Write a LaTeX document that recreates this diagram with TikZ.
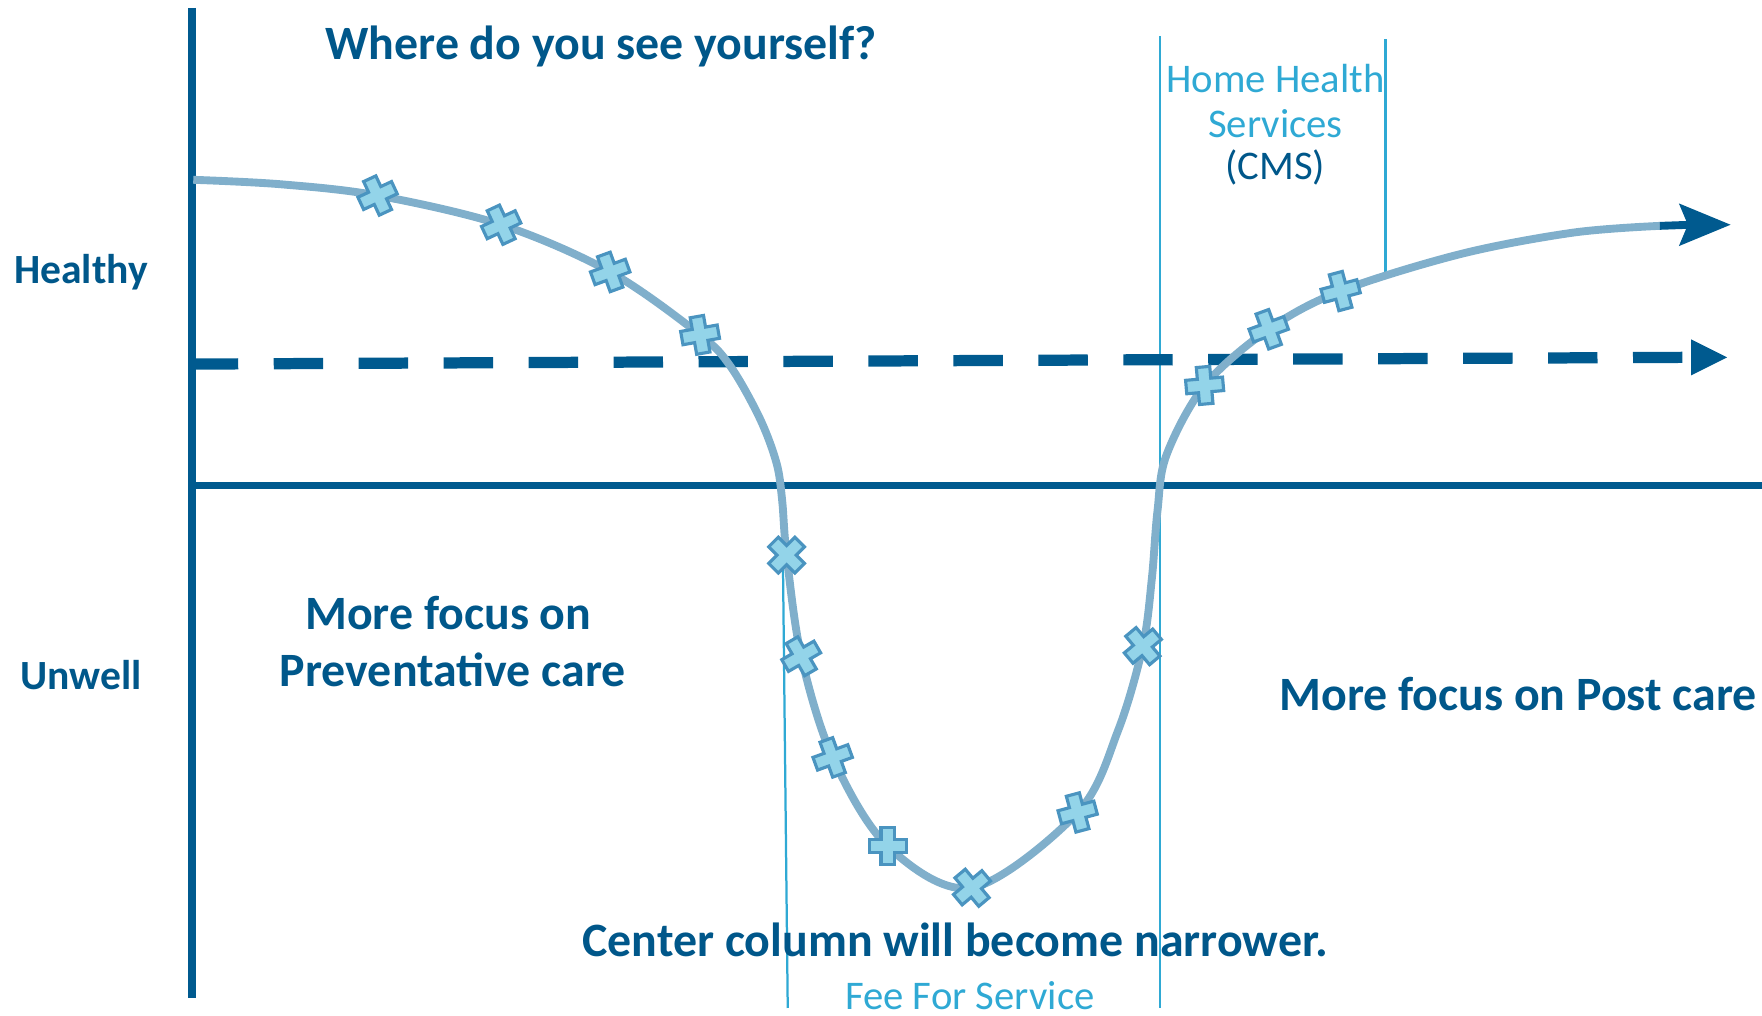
\documentclass[tikz,border=0pt]{standalone}
\usepackage{fontspec}
\setmainfont{Carlito}
\definecolor{dkblue}{HTML}{005A8F}
\definecolor{txtblue}{HTML}{00578A}
\definecolor{ltblue}{HTML}{2FA9D4}
\definecolor{curveblue}{HTML}{80AFCB}
\definecolor{crossfill}{HTML}{93D4E9}
\definecolor{crossline}{HTML}{4A94C0}
\tikzset{
  axisline/.style={draw=dkblue, line width=3.4pt},
  thinline/.style={draw=ltblue, line width=1pt},
  boldlbl/.style={inner sep=0pt, anchor=base, text=txtblue, font=\fontsize{21.3pt}{25pt}\selectfont\bfseries},
  sidelbl/.style={boldlbl, font=\fontsize{18.5pt}{22pt}\selectfont\bfseries},
  lightlbl/.style={inner sep=0pt, anchor=base, text=ltblue, font=\fontsize{18.1pt}{21pt}\selectfont},
  crs/.pic={\filldraw[fill=crossfill, draw=crossline, line width=1.4pt, line join=miter]
    (-16.5,-6)--(-6,-6)--(-6,-16.5)--(6,-16.5)--(6,-6)--(16.5,-6)--(16.5,6)--(6,6)--(6,16.5)--(-6,16.5)--(-6,6)--(-16.5,6)--cycle;}
}
\begin{document}
\begin{tikzpicture}[x=0.5pt,y=-0.5pt]
\useasboundingbox (0,0) rectangle (1568,904);
% thin vertical lines
\coordinate (l1t) at (696,432); \coordinate (l1b) at (701,897);
\coordinate (l2t) at (1032,32); \coordinate (l2b) at (1032,897);
\coordinate (l3t) at (1233,35); \coordinate (l3b) at (1233,242);
\draw[thinline] (l1t) -- (l1b);
\draw[thinline] (l2t) -- (l2b);
\draw[thinline] (l3t) -- (l3b);
% axes
\coordinate (vt) at (171,7); \coordinate (vb) at (171,888);
\coordinate (hl) at (168,432); \coordinate (hr) at (1568,432);
\draw[axisline] (vt) -- (vb);
\draw[axisline] (hl) -- (hr);
% dashed line
\coordinate (dl) at (168,324); \coordinate (dr) at (1500,318);
\draw[draw=dkblue, line width=5pt, dash pattern=on 22pt off 15.8pt] (dl) -- (dr);
\fill[dkblue] (1505,302) -- (1537,318) -- (1505,334) -- cycle;
% curve
\draw[curveblue, line width=3.5pt] plot[smooth, tension=0.55] coordinates {
 (172,160) (250,164) (336,174) (446,200) (543,242) (623,298) (650,326) (676,372) (691,412) (696,445)
 (700,494) (713,584) (741,674) (790,753) (865,790) (959,723) (995,650) (1017,575) (1025,515)
 (1030,455) (1038,405) (1072,343) (1129,293) (1193,259) (1300,226) (1400,207) (1477,201)};
\coordinate (st) at (1477,201); \coordinate (se) at (1505,200);
\draw[dkblue, line width=3.5pt] (st) -- (se);
\fill[dkblue] (1540,200) -- (1494,181) -- (1502,200) -- (1494,219) -- cycle;
% crosses
\pic[rotate=25] at (336,174) {crs};
\pic[rotate=25] at (446,200) {crs};
\pic[rotate=20] at (543,242) {crs};
\pic[rotate=10] at (623,298) {crs};
\pic[rotate=45] at (700,494) {crs};
\pic[rotate=30] at (713,584) {crs};
\pic[rotate=20] at (741,674) {crs};
\pic[rotate=0] at (790,753) {crs};
\pic[rotate=40] at (865,790) {crs};
\pic[rotate=15] at (959,723) {crs};
\pic[rotate=40] at (1017,575) {crs};
\pic[rotate=5] at (1072,343) {crs};
\pic[rotate=20] at (1129,293) {crs};
\pic[rotate=15] at (1193,259) {crs};
% texts
\node[boldlbl] (title) at (535,53) {Where do you see yourself?};
\node[sidelbl] (healthy) at (72,252) {Healthy};
\node[sidelbl] (unwell) at (72,614) {Unwell};
\node[boldlbl] (prev1) at (399,560) {More focus on};
\node[boldlbl] (prev2) at (403,611) {Preventative care};
\node[boldlbl] (post) at (1351,632) {More focus on Post care};
\node[boldlbl] (center) at (850,851) {Center column will become narrower.};
\node[lightlbl] (fee) at (863,898) {Fee For Service};
\node[lightlbl] (hh1) at (1135,82) {Home Health};
\node[lightlbl] (hh2) at (1135,122) {Services};
\node[lightlbl, text=txtblue] (hh3) at (1135,160) {(CMS)};
\end{tikzpicture}
\end{document}
